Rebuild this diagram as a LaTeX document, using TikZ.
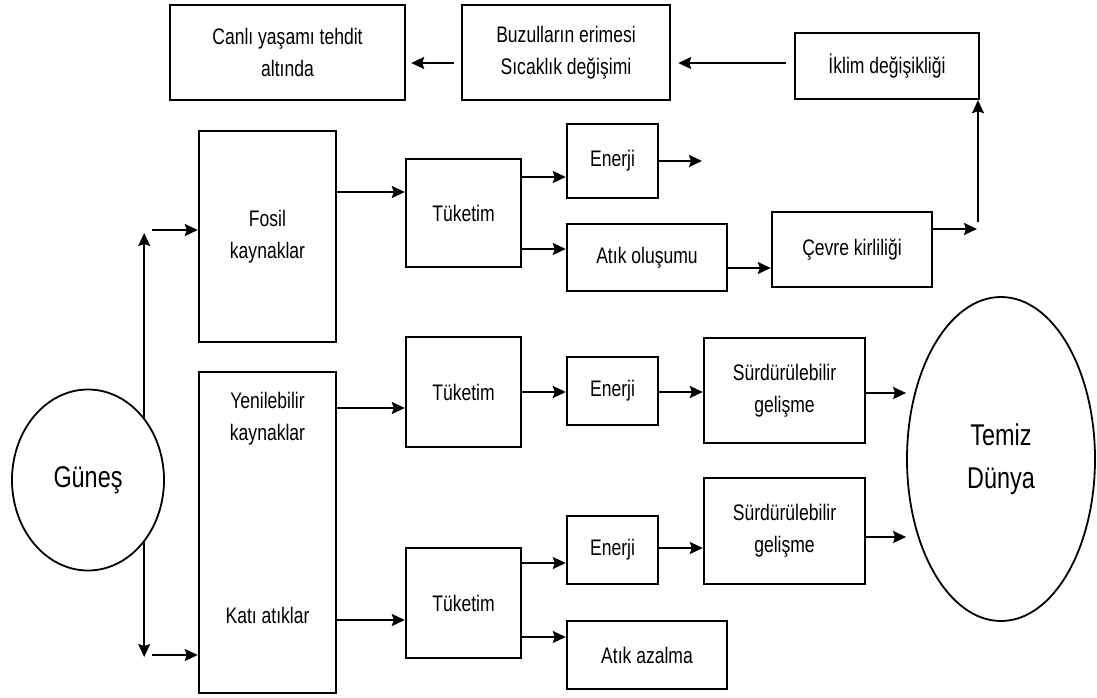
\documentclass[tikz,border=0pt]{standalone}
\usepackage{fontspec}
\setmainfont{Liberation Sans}[FakeStretch=0.78]
\usepackage{tikz}
\usetikzlibrary{arrows.meta, shapes.geometric}
\tikzset{box/.style = {draw, line width = 2.4, align = center, inner sep = 0, font = \fontsize{22.5}{32}\selectfont},
         lbl/.style = {align = center, inner sep = 0, font = \fontsize{22.5}{32}\selectfont},
         oval/.style = {draw, ellipse, line width = 1.8, inner sep = 0, align = center, font = \fontsize{30}{43}\selectfont},
         arr/.style = {line width = 2, -{Stealth[length = 13pt, width = 12pt, inset = 2pt]}}}

\begin{document}
\begin{tikzpicture}[x = 1pt, y = -1pt]
    \useasboundingbox (0, 0) rectangle (1097, 698);

    % top row
    \node [box, minimum width = 235, minimum height = 95] (canli) at (287.5, 52.5) {Canlı yaşamı tehdit\\altında};
    \node [box, minimum width = 208, minimum height = 95] (buzul) at (566, 52.5) {Buzulların erimesi\\Sıcaklık değişimi};
    \node [box, minimum width = 184, minimum height = 66] (iklim) at (887, 66) {İklim değişikliği};

    % fossil branch
    \node [box, minimum width = 137, minimum height = 211] (fosil) at (267.5, 236.5) {Fosil\\kaynaklar};
    \node [box, minimum width = 115, minimum height = 108] (tuk1) at (463.5, 213) {Tüketim};
    \node [box, minimum width = 91, minimum height = 74] (enerji1) at (612.5, 161) {Enerji};
    \node [box, minimum width = 160, minimum height = 67] (atik) at (647, 257.5) {Atık oluşumu};
    \node [box, minimum width = 160, minimum height = 75] (cevre) at (852, 249.5) {Çevre kirliliği};

    % renewable and waste branch
    \node [box, minimum width = 137, minimum height = 321] (yenkati) at (267.5, 532.5) {};
    \node [lbl] (yen) at (267.5, 419) {Yenilebilir\\kaynaklar};
    \node [lbl] (kati) at (267.5, 615) {Katı atıklar};
    \node [box, minimum width = 115, minimum height = 110] (tuk2) at (463.5, 392) {Tüketim};
    \node [box, minimum width = 91, minimum height = 68] (enerji2) at (612.5, 391) {Enerji};
    \node [box, minimum width = 161, minimum height = 105] (surd1) at (784.5, 390.5) {Sürdürülebilir\\gelişme};
    \node [box, minimum width = 115, minimum height = 110] (tuk3) at (463.5, 603) {Tüketim};
    \node [box, minimum width = 91, minimum height = 68] (enerji3) at (612.5, 550) {Enerji};
    \node [box, minimum width = 161, minimum height = 106] (surd2) at (784.5, 531) {Sürdürülebilir\\gelişme};
    \node [box, minimum width = 160, minimum height = 68] (azalma) at (647, 655) {Atık azalma};

    \node [oval, minimum width = 152, minimum height = 181] (gunes) at (88, 480) {Güneş};
    \node [oval, minimum width = 188, minimum height = 324] (temiz) at (1001, 459) {Temiz\\Dünya};

    % arrows along the top
    \draw [arr, shorten <= 8pt, shorten >= 7pt] (iklim.west |- 0, 63) -- (buzul.east |- 0, 63);
    \draw [arr, shorten <= 7pt, shorten >= 5pt] (buzul.west |- 0, 63) -- (canli.east |- 0, 63);

    % from the sun
    \draw [arr, line width = 1.4] (gunes.48) -- (gunes.48 |- 0, 233);
    \draw [arr] (152, 230) coordinate (s1) -- (fosil.west |- s1);
    \draw [arr, line width = 1.4] (gunes.-48) -- (gunes.-48 |- 0, 657);
    \draw [arr] (152, 655) coordinate (s2) -- (yenkati.west |- s2);

    % fossil chain
    \draw [arr] (fosil.east |- 0, 192) -- (tuk1.west |- 0, 192);
    \draw [arr] (tuk1.east |- 0, 177) -- (enerji1.west |- 0, 177);
    \draw [arr] (tuk1.east |- 0, 249) -- (atik.west |- 0, 249);
    \draw [arr] (enerji1.east |- 0, 161) -- (702, 161) coordinate (e1);
    \draw [arr] (atik.east |- 0, 268) -- (cevre.west |- 0, 268);
    \draw [arr] (cevre.east |- 0, 229) -- (977, 229) coordinate (c1);
    \draw [arr] (978, 222) coordinate (c2) -- (iklim.south east -| c2);

    % renewable chain
    \draw [arr] (yenkati.east |- 0, 408) -- (tuk2.west |- 0, 408);
    \draw [arr] (tuk2.east |- 0, 392) -- (enerji2.west |- 0, 392);
    \draw [arr] (enerji2.east |- 0, 392) -- (surd1.west |- 0, 392);
    \draw [arr] (surd1.east |- 0, 393) -- (temiz.west |- 0, 393);

    % waste chain
    \draw [arr] (yenkati.east |- 0, 620) -- (tuk3.west |- 0, 620);
    \draw [arr] (tuk3.east |- 0, 563) -- (enerji3.west |- 0, 563);
    \draw [arr] (tuk3.east |- 0, 637) -- (azalma.west |- 0, 637);
    \draw [arr] (enerji3.east |- 0, 548) -- (surd2.west |- 0, 548);
    \draw [arr] (surd2.east |- 0, 537) -- (temiz.west |- 0, 537);
\end{tikzpicture}
\end{document}
